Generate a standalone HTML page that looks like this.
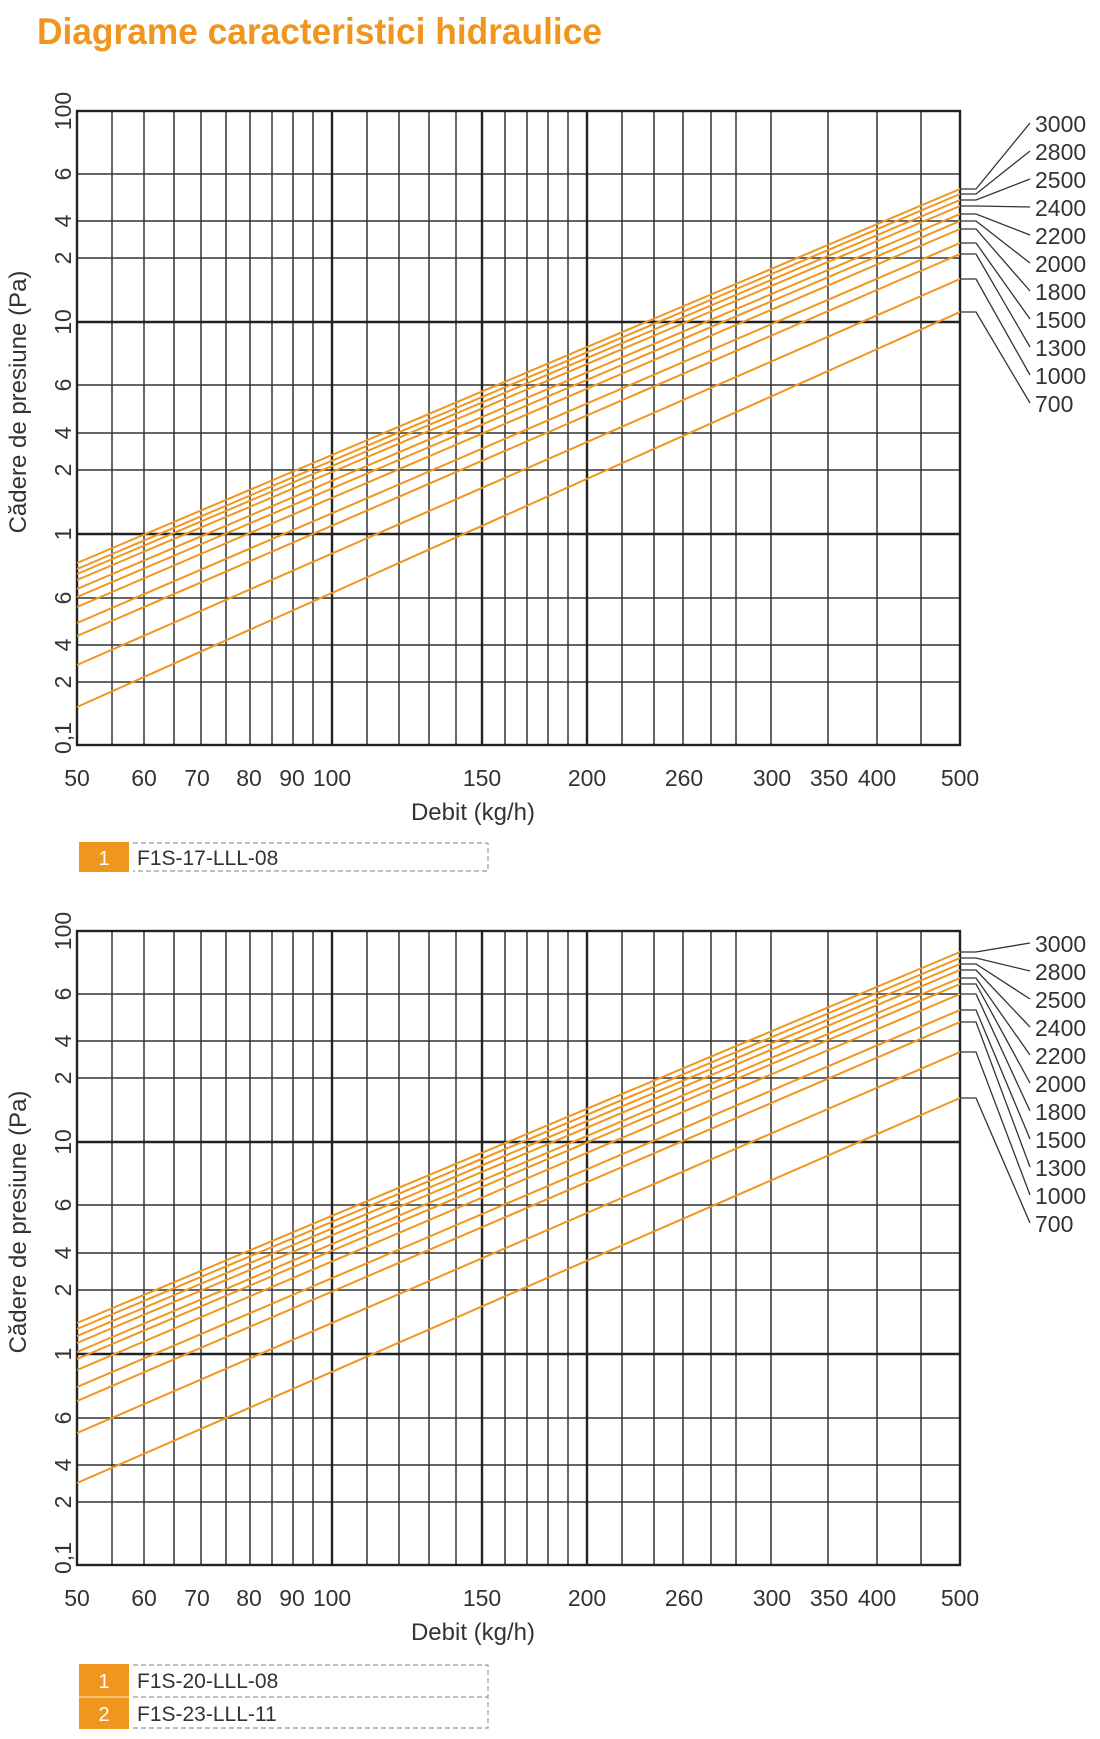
<!DOCTYPE html>
<html><head><meta charset="utf-8"><style>
html,body{margin:0;padding:0;background:#fff;width:1100px;height:1739px;overflow:hidden}
svg{display:block}
text{font-family:"Liberation Sans",sans-serif;fill:#333}
</style></head><body>
<svg width="1100" height="1739" viewBox="0 0 1100 1739" xmlns="http://www.w3.org/2000/svg">
<defs>
<g id="grid">
 <g stroke="#333" stroke-width="1.5" fill="none">
  <path d="M112 111V745M144 111V745M174 111V745M201 111V745M226 111V745M250 111V745M272 111V745M293 111V745M313 111V745M367 111V745M399 111V745M429 111V745M456 111V745M505 111V745M527 111V745M548 111V745M568 111V745M622 111V745M654 111V745M683 111V745M711 111V745M736 111V745M771 111V745M828 111V745M877 111V745M921 111V745"/>
  <path d="M77 174H960M77 221H960M77 258H960M77 385H960M77 433H960M77 470H960M77 598H960M77 645H960M77 682H960"/>
 </g>
 <g stroke="#222" stroke-width="2.4" fill="none">
  <path d="M332 111V745M482 111V745M587 111V745M77 322H960M77 534H960"/>
  <rect x="77" y="111" width="883" height="634"/>
 </g>
 <g font-size="23" text-anchor="middle">
  <text x="77" y="786">50</text><text x="144" y="786">60</text><text x="197" y="786">70</text><text x="249" y="786">80</text><text x="292" y="786">90</text><text x="332" y="786">100</text><text x="482" y="786">150</text><text x="587" y="786">200</text><text x="684" y="786">260</text><text x="772" y="786">300</text><text x="829" y="786">350</text><text x="877" y="786">400</text><text x="960" y="786">500</text>
  <text x="473" y="820" font-size="24">Debit (kg/h)</text>
 </g>
 <g font-size="23" text-anchor="middle">
  <text transform="translate(71,111) rotate(-90)">100</text>
  <text transform="translate(71,174) rotate(-90)">6</text>
  <text transform="translate(71,221) rotate(-90)">4</text>
  <text transform="translate(71,258) rotate(-90)">2</text>
  <text transform="translate(71,322) rotate(-90)">10</text>
  <text transform="translate(71,385) rotate(-90)">6</text>
  <text transform="translate(71,433) rotate(-90)">4</text>
  <text transform="translate(71,470) rotate(-90)">2</text>
  <text transform="translate(71,534) rotate(-90)">1</text>
  <text transform="translate(71,598) rotate(-90)">6</text>
  <text transform="translate(71,645) rotate(-90)">4</text>
  <text transform="translate(71,682) rotate(-90)">2</text>
  <text transform="translate(71,738) rotate(-90)">0,1</text>
  <text transform="translate(26,402) rotate(-90)" font-size="24">Cădere de presiune (Pa)</text>
 </g>
 <g font-size="23">
  <text x="1035" y="132">3000</text><text x="1035" y="160">2800</text><text x="1035" y="188">2500</text><text x="1035" y="216">2400</text><text x="1035" y="244">2200</text><text x="1035" y="272">2000</text><text x="1035" y="300">1800</text><text x="1035" y="328">1500</text><text x="1035" y="356">1300</text><text x="1035" y="384">1000</text><text x="1035" y="412">700</text>
 </g>
</g>
</defs>

<text x="37" y="44" font-size="37" font-weight="bold" style="fill:#f0961e" textLength="565" lengthAdjust="spacingAndGlyphs">Diagrame caracteristici hidraulice</text>

<use href="#grid"/>
<g stroke="#f0961e" stroke-width="2" fill="none">
 <path d="M77 563L960 189M77 569L960 194M77 574L960 200M77 580L960 206M77 589L960 214M77 597L960 221M77 607L960 229M77 623L960 243M77 636L960 254M77 665L960 279M77 707L960 312"/>
</g>
<g stroke="#333" stroke-width="1.3" fill="none">
 <path d="M960 189H976L1030 123M960 194H976L1030 151M960 200H976L1030 179M960 206H976L1030 207M960 214H976L1030 235M960 221H976L1030 263M960 229H976L1030 291M960 243H976L1030 319M960 254H976L1030 347M960 279H976L1030 375M960 312H976L1030 403"/>
</g>
<rect x="79" y="842" width="50" height="30" fill="#f0961e"/>
<text x="104" y="865" font-size="20" text-anchor="middle" style="fill:#fff">1</text>
<path d="M133 843H488V871H133" fill="none" stroke="#999" stroke-width="1.2" stroke-dasharray="5,3"/>
<text x="137" y="865" font-size="21">F1S-17-LLL-08</text>

<g transform="translate(0,820)"><use href="#grid"/></g>
<g stroke="#f0961e" stroke-width="2" fill="none">
 <path d="M77 1323L960 952M77 1329L960 958M77 1336L960 964M77 1343L960 970M77 1352L960 978M77 1359L960 984M77 1370L960 994M77 1387L960 1010M77 1401L960 1022M77 1433L960 1052M77 1483L960 1098"/>
</g>
<g stroke="#333" stroke-width="1.3" fill="none">
 <path d="M960 952H976L1030 943M960 958H976L1030 971M960 964H976L1030 999M960 970H976L1030 1027M960 978H976L1030 1055M960 984H976L1030 1083M960 994H976L1030 1111M960 1010H976L1030 1139M960 1022H976L1030 1167M960 1052H976L1030 1195M960 1098H976L1030 1223"/>
</g>
<rect x="79" y="1664" width="50" height="65" fill="#f0961e"/>
<line x1="79" y1="1697" x2="129" y2="1697" stroke="#fbd9a8" stroke-width="1.2"/>
<text x="104" y="1688" font-size="20" text-anchor="middle" style="fill:#fff">1</text>
<text x="104" y="1721" font-size="20" text-anchor="middle" style="fill:#fff">2</text>
<path d="M133 1665H488V1728H133M133 1697H488" fill="none" stroke="#999" stroke-width="1.2" stroke-dasharray="5,3"/>
<text x="137" y="1688" font-size="21">F1S-20-LLL-08</text>
<text x="137" y="1721" font-size="21">F1S-23-LLL-11</text>
</svg>
</body></html>
